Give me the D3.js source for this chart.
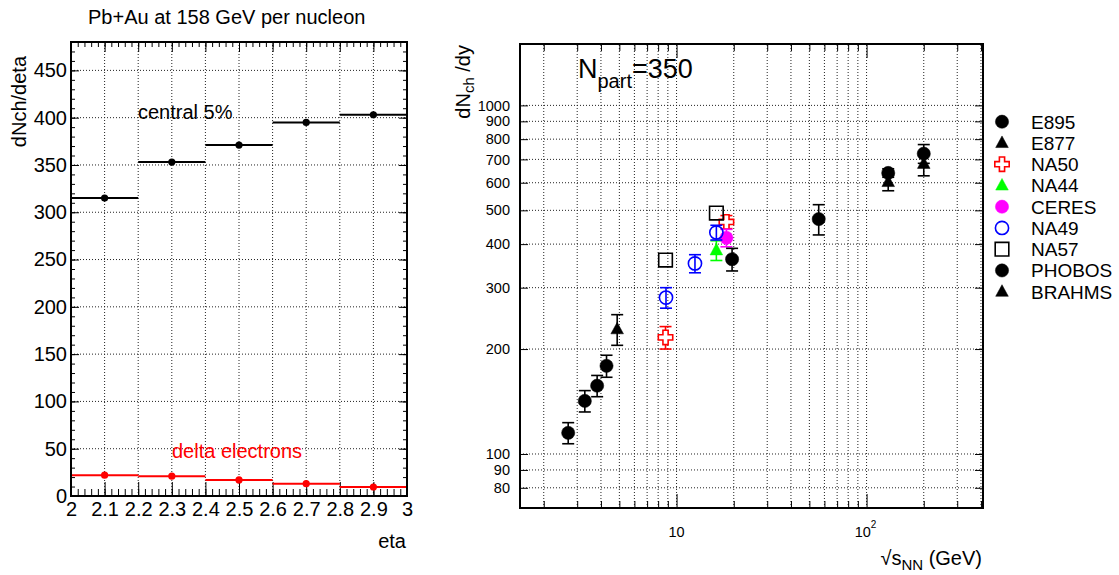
<!DOCTYPE html>
<html>
<head>
<meta charset="utf-8">
<script src="https://cdn.jsdelivr.net/npm/d3@7"></script>
<style>
  body { margin: 0; background: #fff; }
  svg { display: block; font-family: "Liberation Sans", Arial, Helvetica, sans-serif; }
</style>
</head>
<body>
<div id="chart"></div>
<script>
// left panel: Pb+Au dNch/deta per eta bin
const etaBins = [2.0, 2.2, 2.4, 2.6, 2.8, 3.0];
const central5 = [315, 353, 371, 395, 403];
const deltaElectrons = [22, 21, 17, 13, 9.5];

// right panel: [sqrt(sNN), dNch/dy, error]
const e895 = [[2.69, 115, 8], [3.29, 142, 10], [3.82, 157, 11], [4.28, 179, 13]];
const e877 = [[4.87, 228, 23]];
const na50 = [[8.75, 216, 16], [18.3, 463, 20]];
const na44 = [[16.2, 384, 25]];
const ceres = [[18.3, 417, 24]];
const na49 = [[8.8, 281, 19], [12.5, 352, 21], [16.2, 432, 21]];
const na57 = [[8.75, 360, 0], [16.2, 491, 0]];
const phobos = [[19.6, 362, 27], [56, 472, 47], [130, 640, 18], [200, 727, 45]];
const brahms = [[130, 603, 34], [200, 680, 52]];

const yTicksRight = [80, 90, 100, 200, 300, 400, 500, 600, 700, 800, 900, 1000];
const xTicksRight = [2, 3, 4, 5, 6, 7, 8, 9, 10, 20, 30, 40, 50, 60, 70, 80, 90, 100, 200, 300, 400];

const W = 1119, H = 575;
const svg = d3.select("#chart").append("svg").attr("width", W).attr("height", H);
svg.append("rect").attr("width", W).attr("height", H).attr("fill", "#fff");

function grid(g, xs, ys, x, y) {
  g.selectAll(".gx").data(xs).join("line")
    .attr("x1", d => x(d)).attr("x2", d => x(d))
    .attr("y1", y.range()[0]).attr("y2", y.range()[1])
    .attr("stroke", "#222").attr("stroke-width", 1).attr("stroke-dasharray", "1,2");
  g.selectAll(".gy").data(ys).join("line")
    .attr("y1", d => y(d)).attr("y2", d => y(d))
    .attr("x1", x.range()[0]).attr("x2", x.range()[1])
    .attr("stroke", "#222").attr("stroke-width", 1).attr("stroke-dasharray", "1,2");
}

function cleanAxis(g) {
  g.select(".domain").remove();
  g.selectAll(".tick line").attr("stroke", "#000").attr("stroke-width", 1);
}

// ---------- left panel ----------
const xL = d3.scaleLinear().domain([2, 3]).range([71, 407]);
const yL = d3.scaleLinear().domain([0, 480]).range([496, 42]);
const gL = svg.append("g");

grid(gL.append("g"), d3.range(2.1, 2.95, 0.1), d3.range(50, 451, 50), xL, yL);

const xMajL = d3.range(0, 11).map(i => 2 + i / 10);
const xMinL = d3.range(0, 51).map(i => 2 + i / 50);
const yMajL = d3.range(0, 451, 50);
const yMinL = d3.range(0, 481, 10);

gL.append("g").attr("transform", `translate(0,${yL(0)})`)
  .call(d3.axisBottom(xL).tickValues(xMinL).tickSize(-7).tickFormat("")).call(cleanAxis);
gL.append("g").attr("transform", `translate(0,${yL(0)})`)
  .call(d3.axisBottom(xL).tickValues(xMajL).tickSize(-14).tickPadding(6).tickFormat(d => +d.toFixed(1)))
  .call(cleanAxis)
  .call(g => g.selectAll("text").attr("font-size", 20).attr("fill", "#000").attr("font-family", null));
gL.append("g").attr("transform", `translate(0,${yL(480)})`)
  .call(d3.axisTop(xL).tickValues(xMinL).tickSize(-5).tickFormat("")).call(cleanAxis);
gL.append("g").attr("transform", `translate(0,${yL(480)})`)
  .call(d3.axisTop(xL).tickValues(xMajL).tickSize(-10).tickFormat("")).call(cleanAxis);

gL.append("g").attr("transform", `translate(${xL(2)},0)`)
  .call(d3.axisLeft(yL).tickValues(yMinL).tickSize(-4).tickFormat("")).call(cleanAxis);
gL.append("g").attr("transform", `translate(${xL(2)},0)`)
  .call(d3.axisLeft(yL).tickValues(yMajL).tickSize(-8).tickPadding(4))
  .call(cleanAxis)
  .call(g => g.selectAll("text").attr("font-size", 20).attr("fill", "#000").attr("font-family", null));
gL.append("g").attr("transform", `translate(${xL(3)},0)`)
  .call(d3.axisRight(yL).tickValues(yMinL).tickSize(-4).tickFormat("")).call(cleanAxis);
gL.append("g").attr("transform", `translate(${xL(3)},0)`)
  .call(d3.axisRight(yL).tickValues(yMajL).tickSize(-8).tickFormat("")).call(cleanAxis);

function histo(g, vals, color) {
  const bins = vals.map((v, i) => ({ lo: etaBins[i], hi: etaBins[i + 1], v }));
  g.selectAll(null).data(bins).join("line")
    .attr("x1", d => xL(d.lo)).attr("x2", d => xL(d.hi))
    .attr("y1", d => yL(d.v)).attr("y2", d => yL(d.v))
    .attr("stroke", color).attr("stroke-width", 2);
  g.selectAll(null).data(bins).join("circle")
    .attr("cx", d => xL((d.lo + d.hi) / 2)).attr("cy", d => yL(d.v))
    .attr("r", 3.6).attr("fill", color);
}
histo(gL.append("g"), central5, "#000");
histo(gL.append("g"), deltaElectrons, "#ff0000");

gL.append("rect").attr("x", xL(2)).attr("y", yL(480))
  .attr("width", xL(3) - xL(2)).attr("height", yL(0) - yL(480))
  .attr("fill", "none").attr("stroke", "#000").attr("stroke-width", 2);

gL.append("text").attr("x", 88).attr("y", 24).attr("font-size", 20)
  .text("Pb+Au at 158 GeV per nucleon");
gL.append("text").attr("x", 138).attr("y", 119).attr("font-size", 20).text("central 5%");
gL.append("text").attr("x", 172).attr("y", 458).attr("font-size", 20).attr("fill", "#ff0000")
  .text("delta electrons");
gL.append("text").attr("x", 406).attr("y", 548).attr("font-size", 20)
  .attr("text-anchor", "end").text("eta");
gL.append("text").attr("transform", "translate(26,56) rotate(-90)")
  .attr("font-size", 20).attr("text-anchor", "end").text("dNch/deta");

// ---------- right panel ----------
const xR = d3.scaleLog().domain([1.5, 410]).range([520, 983]);
const yR = d3.scaleLog().domain([70, 1500]).range([508, 44]);
const gR = svg.append("g");

grid(gR.append("g"), xTicksRight, yTicksRight, xR, yR);

const isMajor = d => d === 10 || d === 100;
function xTicks(axisFn, y0, sizeMaj, sizeMin) {
  gR.append("g").attr("transform", `translate(0,${y0})`)
    .call(axisFn(xR).tickValues(xTicksRight.filter(d => !isMajor(d))).tickSize(sizeMin).tickFormat(""))
    .call(cleanAxis);
  gR.append("g").attr("transform", `translate(0,${y0})`)
    .call(axisFn(xR).tickValues(xTicksRight.filter(isMajor)).tickSize(sizeMaj).tickFormat(""))
    .call(cleanAxis);
}
xTicks(d3.axisBottom, yR(70), -14, -7);
xTicks(d3.axisTop, yR(1500), -14, -7);

gR.append("g").attr("transform", `translate(${xR(1.5)},0)`)
  .call(d3.axisLeft(yR).tickValues(yTicksRight).tickSize(-8).tickPadding(10).tickFormat(d3.format("d")))
  .call(cleanAxis)
  .call(g => g.selectAll("text").attr("font-size", 14.5).attr("fill", "#000").attr("font-family", null));
gR.append("g").attr("transform", `translate(${xR(410)},0)`)
  .call(d3.axisRight(yR).tickValues(yTicksRight).tickSize(-8).tickFormat(""))
  .call(cleanAxis);

// x tick labels 10 and 10^2
gR.append("text").attr("x", xR(10)).attr("y", 537).attr("font-size", 14.5)
  .attr("text-anchor", "middle").text("10");
const t2 = gR.append("text").attr("x", xR(100) - 1).attr("y", 537).attr("font-size", 14.5)
  .attr("text-anchor", "middle");
t2.append("tspan").text("10");
t2.append("tspan").attr("font-size", 10).attr("dy", -9).text("2");

gR.append("rect").attr("x", xR(1.5)).attr("y", yR(1500))
  .attr("width", xR(410) - xR(1.5)).attr("height", yR(70) - yR(1500))
  .attr("fill", "none").attr("stroke", "#000").attr("stroke-width", 2);

// markers
const shapes = {
  circle: "M0,-6.6A6.6,6.6 0 1,1 0,6.6A6.6,6.6 0 1,1 0,-6.6Z",
  triangle: "M0,-7L6.3,4.6L-6.3,4.6Z",
  cross: "M-2.6,-7.2L2.6,-7.2L2.6,-2.6L7.2,-2.6L7.2,2.6L2.6,2.6L2.6,7.2L-2.6,7.2L-2.6,2.6L-7.2,2.6L-7.2,-2.6L-2.6,-2.6Z",
  square: "M-6.8,-6.8L6.8,-6.8L6.8,6.8L-6.8,6.8Z"
};

const series = [
  { name: "E895", data: e895, shape: "circle", color: "#000", fill: true },
  { name: "E877", data: e877, shape: "triangle", color: "#000", fill: true },
  { name: "NA50", data: na50, shape: "cross", color: "#ff0000", fill: false },
  { name: "NA44", data: na44, shape: "triangle", color: "#00ff00", fill: true },
  { name: "CERES", data: ceres, shape: "circle", color: "#ff00ff", fill: true },
  { name: "NA49", data: na49, shape: "circle", color: "#0000ff", fill: false },
  { name: "NA57", data: na57, shape: "square", color: "#000", fill: false },
  { name: "PHOBOS", data: phobos, shape: "circle", color: "#000", fill: true },
  { name: "BRAHMS", data: brahms, shape: "triangle", color: "#000", fill: true }
];

function marker(sel, s) {
  sel.append("path").attr("d", shapes[s.shape])
    .attr("fill", s.fill ? s.color : (s.shape === "cross" ? "#fff" : "none"))
    .attr("stroke", s.color).attr("stroke-width", s.fill ? 0.5 : 1.6);
}

series.forEach(s => {
  const g = gR.append("g");
  s.data.filter(d => d[2] > 0).forEach(d => {
    const x = xR(d[0]), y1 = yR(d[1] + d[2]), y2 = yR(d[1] - d[2]);
    g.append("line").attr("x1", x).attr("x2", x).attr("y1", y1).attr("y2", y2)
      .attr("stroke", s.color).attr("stroke-width", 1.6);
    [y1, y2].forEach(yy => g.append("line").attr("x1", x - 6).attr("x2", x + 6)
      .attr("y1", yy).attr("y2", yy).attr("stroke", s.color).attr("stroke-width", 1.6));
  });
  s.data.forEach(d => {
    const m = g.append("g").attr("transform", `translate(${xR(d[0])},${yR(d[1])})`);
    marker(m, s);
  });
});

// legend
const leg = svg.append("g");
series.forEach((s, i) => {
  const y = 121.7 + i * 21.25;
  marker(leg.append("g").attr("transform", `translate(1002,${y})`), s);
  leg.append("text").attr("x", 1031).attr("y", y + 7).attr("font-size", 19).text(s.name);
});

// titles
const np = gR.append("text").attr("x", 578).attr("y", 78);
np.append("tspan").attr("font-size", 27).text("N");
np.append("tspan").attr("font-size", 20).attr("dy", 10).text("part");
np.append("tspan").attr("font-size", 27).attr("dy", -10).text("=350");

const yt = gR.append("text").attr("transform", "translate(470,45) rotate(-90)")
  .attr("text-anchor", "end").attr("font-size", 20);
yt.append("tspan").text("dN");
yt.append("tspan").attr("font-size", 15).attr("dy", 4).text("ch");
yt.append("tspan").attr("dy", -4).text(" /dy");

const xt = gR.append("text").attr("x", 982).attr("y", 565)
  .attr("text-anchor", "end").attr("font-size", 20);
xt.append("tspan").text("\u221As");
xt.append("tspan").attr("font-size", 15).attr("dy", 5).text("NN");
xt.append("tspan").attr("dy", -5).text(" (GeV)");
</script>
</body>
</html>
